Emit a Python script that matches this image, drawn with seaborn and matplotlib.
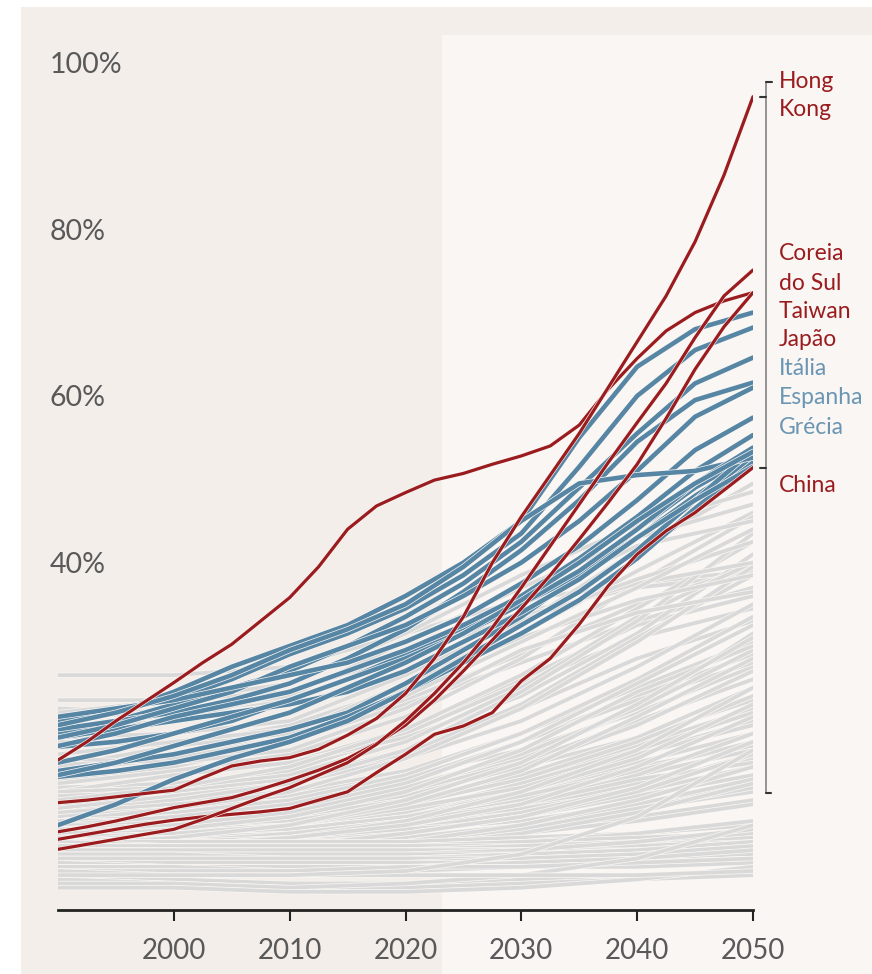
import numpy as np
import pandas as pd
import matplotlib
matplotlib.use('Agg')
import matplotlib.pyplot as plt
import matplotlib.patheffects as pe
from matplotlib.patches import Rectangle
import seaborn as sns

# years: red series read every 2.5 years, blue every 5, grey every 10
years_red = [1990 + 2.5 * i for i in range(25)]
years_5 = list(range(1990, 2051, 5))
years_10 = list(range(1990, 2051, 10))

# highlighted asian economies (%)
hong_kong = [11.2, 11.5, 11.9, 12.3, 12.7, 14.2, 15.6, 16.2, 16.6, 17.6, 19.3, 21.3, 24.3,
             28.5, 33.5, 40.0, 45.5, 50.5, 55.5, 61.0, 66.5, 72.0, 78.5, 86.5, 95.9]
coreia = [5.6, 6.2, 6.8, 7.4, 8.0, 9.2, 10.5, 11.8, 13.0, 14.5, 16.0, 18.2, 21.0,
          24.3, 28.0, 32.2, 37.0, 42.0, 47.0, 52.0, 56.8, 61.5, 67.0, 72.0, 75.1]
taiwan = [7.7, 8.3, 9.0, 9.8, 10.6, 11.2, 11.8, 12.8, 13.9, 15.1, 16.5, 18.3, 20.5,
          23.5, 27.0, 30.7, 34.5, 38.5, 42.8, 47.2, 51.8, 57.3, 63.2, 68.3, 72.4]
japao = [16.3, 18.5, 21.0, 23.3, 25.6, 28.0, 30.2, 33.0, 35.8, 39.5, 44.0, 46.8, 48.4,
         49.9, 50.7, 51.8, 52.8, 54.0, 56.5, 60.8, 64.5, 67.8, 70.0, 71.4, 72.4]
china = [6.8, 7.4, 8.0, 8.6, 9.1, 9.5, 9.8, 10.1, 10.5, 11.5, 12.5, 14.8, 17.0,
         19.4, 20.4, 22.0, 25.8, 28.5, 32.6, 37.2, 41.0, 43.8, 46.0, 48.7, 51.4]

# european countries (blue)
blue_europe = [
    [20.5, 22.0, 24.5, 27.5, 30.0, 32.5, 36.0, 40.0, 45.0, 55.0, 63.5, 68.0, 70.0],
    [21.0, 22.5, 23.5, 26.0, 29.0, 31.5, 34.5, 38.5, 43.5, 51.5, 60.0, 65.5, 68.2],
    [19.5, 21.0, 23.0, 25.0, 27.0, 30.0, 33.5, 37.5, 42.5, 49.0, 55.5, 61.5, 64.6],
    [20.0, 21.0, 22.0, 23.5, 25.5, 28.5, 32.0, 36.5, 41.5, 47.5, 54.5, 59.5, 61.6],
    [19.0, 20.5, 22.5, 24.5, 27.5, 30.0, 32.5, 36.0, 40.0, 45.0, 51.0, 57.5, 61.0],
    [21.5, 22.5, 23.5, 25.0, 26.5, 28.0, 30.5, 33.5, 37.5, 42.0, 47.5, 53.5, 57.4],
    [18.0, 19.5, 21.5, 23.0, 24.5, 27.0, 29.5, 32.5, 36.0, 40.5, 45.5, 51.0, 55.3],
    [20.5, 22.0, 24.0, 26.5, 29.5, 32.0, 35.0, 39.5, 45.0, 49.5, 50.5, 51.0, 52.6],
    [16.0, 17.5, 19.5, 21.5, 23.5, 26.0, 28.5, 31.5, 35.0, 39.0, 44.0, 49.5, 53.8],
    [14.5, 16.0, 18.0, 20.0, 22.0, 25.0, 28.0, 31.5, 35.5, 40.0, 45.0, 49.5, 53.3],
    [15.0, 16.0, 17.0, 18.5, 20.0, 22.0, 25.5, 29.5, 33.5, 38.5, 44.0, 49.0, 52.9],
    [17.9, 18.5, 19.5, 21.0, 23.5, 26.0, 29.0, 32.0, 35.0, 38.5, 43.0, 48.0, 52.4],
    [14.3, 15.0, 16.0, 17.5, 19.0, 21.5, 24.5, 28.0, 31.5, 35.5, 40.5, 46.5, 52.0],
    [8.5, 11.0, 14.0, 16.5, 18.5, 21.0, 24.5, 28.5, 32.5, 36.5, 41.5, 47.5, 53.5],
    [19.0, 20.0, 21.0, 22.0, 23.0, 24.5, 27.0, 30.5, 34.0, 38.0, 43.0, 47.5, 51.5],
]

# all other countries (grey)
grey_rest = [
    [26.5, 26.5, 27.5, 31.5, 35.5, 37.5, 39.0],
    [23.5, 23.5, 24.5, 29.0, 34.0, 37.0, 38.5],
    [22.5, 22.0, 23.5, 28.5, 35.5, 42.0, 45.0],
    [22.0, 23.5, 25.5, 31.5, 38.5, 44.5, 48.5],
    [21.5, 22.0, 24.0, 30.5, 37.0, 43.0, 47.0],
    [20.0, 21.0, 24.5, 29.0, 33.5, 37.5, 40.0],
    [19.0, 19.5, 21.0, 26.5, 33.0, 38.0, 42.5],
    [18.5, 18.0, 19.5, 25.5, 31.0, 35.5, 38.5],
    [17.0, 18.5, 20.0, 24.0, 30.5, 37.0, 44.0],
    [16.5, 16.0, 17.5, 22.5, 29.5, 34.0, 36.5],
    [16.0, 17.0, 19.0, 23.5, 29.0, 35.0, 39.5],
    [15.5, 18.0, 20.5, 25.0, 32.5, 41.5, 49.5],
    [15.0, 16.5, 19.0, 24.5, 31.5, 39.0, 46.0],
    [14.5, 15.0, 16.0, 20.0, 26.0, 32.5, 36.0],
    [14.0, 15.5, 18.5, 23.0, 28.0, 33.0, 37.0],
    [13.5, 15.0, 17.0, 21.5, 28.5, 37.5, 45.5],
    [13.0, 13.5, 15.0, 19.5, 25.5, 31.0, 34.5],
    [12.5, 14.5, 16.0, 19.0, 24.0, 31.5, 41.0],
    [12.5, 13.0, 14.5, 18.5, 25.0, 33.5, 40.0],
    [12.0, 12.5, 14.0, 17.5, 22.5, 28.5, 33.0],
    [11.5, 13.0, 15.5, 20.0, 26.5, 34.5, 42.5],
    [11.0, 11.5, 12.5, 15.0, 19.5, 25.0, 30.5],
    [11.0, 12.0, 13.5, 17.0, 23.0, 31.0, 38.5],
    [10.5, 12.0, 13.5, 16.5, 21.0, 27.5, 35.0],
    [10.0, 11.5, 13.5, 17.5, 24.5, 33.0, 43.5],
    [10.0, 10.5, 11.5, 14.0, 18.5, 24.0, 29.0],
    [10.0, 11.0, 12.0, 14.5, 17.5, 22.0, 27.5],
    [9.5, 10.0, 10.5, 12.5, 16.5, 22.5, 31.5],
    [9.5, 10.5, 11.5, 13.0, 15.5, 19.0, 23.5],
    [9.0, 10.0, 11.5, 14.5, 19.5, 26.0, 33.5],
    [9.0, 10.5, 12.5, 16.5, 22.5, 30.5, 39.5],
    [9.0, 9.5, 10.5, 12.5, 16.0, 21.0, 26.0],
    [9.0, 9.0, 9.5, 11.5, 14.0, 18.0, 22.5],
    [8.5, 9.0, 10.0, 12.0, 15.5, 20.5, 27.0],
    [8.5, 9.5, 11.0, 14.0, 18.5, 23.5, 28.0],
    [8.5, 8.5, 9.0, 10.5, 13.0, 17.0, 21.0],
    [8.0, 9.0, 10.5, 13.5, 18.5, 25.5, 32.5],
    [8.0, 8.5, 9.5, 11.5, 14.5, 19.0, 25.0],
    [8.0, 8.0, 8.5, 10.0, 12.5, 16.0, 19.5],
    [7.5, 8.0, 9.0, 11.0, 14.0, 18.5, 24.0],
    [7.5, 8.5, 10.0, 13.0, 17.0, 22.5, 29.5],
    [7.5, 7.5, 8.0, 9.5, 12.0, 15.5, 18.0],
    [7.5, 8.0, 8.5, 10.0, 13.5, 17.5, 22.0],
    [7.0, 8.0, 9.5, 12.5, 17.5, 24.5, 30.0],
    [7.0, 7.5, 8.5, 10.5, 13.0, 17.0, 20.5],
    [7.0, 7.0, 7.5, 9.0, 11.5, 14.5, 17.5],
    [7.0, 7.5, 8.0, 9.5, 12.5, 16.5, 23.0],
    [6.5, 7.5, 8.5, 11.0, 15.0, 21.5, 28.5],
    [6.5, 7.0, 8.0, 9.5, 12.0, 15.0, 18.5],
    [6.5, 7.0, 7.5, 8.5, 10.5, 13.5, 16.5],
    [6.5, 6.5, 7.0, 8.5, 11.0, 14.5, 19.5],
    [6.5, 7.0, 7.5, 9.0, 10.5, 12.5, 15.5],
    [6.0, 7.0, 8.5, 11.5, 16.0, 23.0, 31.0],
    [6.0, 6.5, 7.0, 8.0, 10.0, 13.0, 17.0],
    [6.0, 6.5, 7.5, 9.0, 11.0, 14.0, 16.0],
    [6.0, 6.0, 6.5, 7.5, 9.5, 12.0, 14.5],
    [6.0, 6.5, 7.0, 8.0, 9.0, 11.0, 13.5],
    [5.5, 6.0, 7.0, 9.0, 12.5, 17.5, 25.0],
    [5.5, 6.0, 6.5, 7.5, 9.5, 12.5, 17.0],
    [5.5, 6.0, 6.5, 7.0, 8.5, 10.5, 12.5],
    [5.5, 5.5, 6.0, 7.0, 8.0, 9.5, 11.5],
    [5.5, 6.0, 7.0, 8.5, 11.0, 15.5, 21.5],
    [5.0, 5.5, 6.0, 7.0, 8.5, 11.0, 14.0],
    [5.0, 5.5, 6.0, 6.5, 7.5, 9.0, 11.0],
    [5.0, 5.0, 5.5, 6.5, 8.0, 10.5, 13.0],
    [5.0, 5.5, 6.0, 7.5, 9.5, 13.0, 18.5],
    [4.5, 5.0, 5.5, 6.5, 8.5, 11.5, 15.5],
    [4.0, 4.5, 5.0, 6.0, 7.5, 10.0, 13.5],
    [6.5, 6.5, 6.5, 6.5, 7.0, 7.5, 8.5],
    [6.5, 6.0, 6.0, 6.0, 6.5, 7.5, 9.0],
    [6.0, 6.0, 5.5, 5.5, 6.0, 6.5, 8.0],
    [6.0, 5.5, 5.5, 6.0, 6.5, 7.0, 7.5],
    [6.0, 6.0, 6.0, 6.0, 6.0, 6.5, 7.0],
    [5.5, 5.5, 5.5, 5.5, 6.0, 6.5, 7.5],
    [5.5, 5.5, 5.0, 5.0, 5.5, 6.0, 7.0],
    [5.5, 5.0, 5.0, 5.5, 5.5, 6.0, 6.5],
    [5.5, 5.5, 5.5, 5.5, 5.5, 5.5, 6.0],
    [5.0, 5.0, 5.0, 5.0, 5.5, 6.5, 8.0],
    [5.0, 5.0, 5.0, 5.0, 5.0, 5.5, 6.0],
    [5.0, 4.5, 4.5, 4.5, 5.0, 5.5, 6.5],
    [5.0, 5.0, 4.5, 4.5, 4.5, 5.0, 5.5],
    [4.5, 4.5, 4.5, 4.5, 5.0, 5.5, 6.5],
    [4.5, 4.5, 4.5, 4.5, 4.5, 5.0, 5.5],
    [4.5, 4.5, 4.0, 4.0, 4.5, 5.0, 6.0],
    [4.5, 4.5, 4.5, 4.5, 4.5, 4.5, 5.0],
    [4.0, 4.0, 4.0, 4.0, 4.5, 5.0, 6.0],
    [4.0, 4.0, 4.0, 4.0, 4.0, 4.5, 5.0],
    [4.0, 4.0, 4.0, 4.0, 4.0, 4.0, 4.5],
    [4.0, 3.5, 3.5, 3.5, 4.0, 4.5, 5.5],
    [3.5, 3.5, 3.5, 3.5, 3.5, 4.0, 4.5],
    [3.5, 3.5, 3.5, 3.5, 3.5, 3.5, 4.0],
    [3.5, 3.5, 3.0, 3.0, 3.5, 3.5, 4.0],
    [3.0, 3.0, 3.0, 3.5, 3.5, 4.0, 4.5],
    [2.5, 2.0, 1.5, 1.5, 2.0, 2.5, 3.0],
    [2.0, 1.5, 1.0, 1.0, 1.5, 2.0, 2.5],
    [1.5, 1.5, 1.0, 1.5, 2.5, 4.5, 8.5],
    [1.0, 1.0, 0.5, 0.5, 1.0, 2.0, 3.5],
    [3.0, 2.5, 2.5, 2.5, 2.5, 2.5, 3.0],
    [2.5, 2.5, 2.5, 3.0, 5.0, 9.5, 17.5],
]

y_ticks = [40, 60, 80, 100]
x_ticks = [2000, 2010, 2020, 2030, 2040, 2050]

red_c = '#9b1c1f'
blue_c = '#5786a5'
grey_c = '#d9d9d9'
bg_light = '#f9f6f3'


def to_long(rows, years, prefix):
    recs = []
    for i, row in enumerate(rows):
        for yr, v in zip(years, row):
            recs.append({'id': f'{prefix}{i}', 'year': yr, 'value': v})
    return pd.DataFrame(recs)


df_grey = to_long(grey_rest, years_10, 'g')
df_blue = to_long(blue_europe, years_5, 'b')
df_red = to_long([china, japao, taiwan, coreia, hong_kong], years_red, 'r')

sns.set_theme(style='white')
plt.rcParams['font.family'] = ['Lato', 'DejaVu Sans']

fig = plt.figure(figsize=(8.72, 9.74), dpi=100)
fig.patch.set_facecolor('white')
# beige panel and lighter projection area
fig.add_artist(Rectangle((21 / 872, 0), 851 / 872, 967 / 974, transform=fig.transFigure,
                         facecolor='#f3eeea', edgecolor='none', zorder=-10))
fig.add_artist(Rectangle((442 / 872, 0), 430 / 872, 939 / 974, transform=fig.transFigure,
                         facecolor=bg_light, edgecolor='none', zorder=-9))

ax = fig.add_axes([58 / 872, 64 / 974, 695 / 872, 875 / 974])
ax.patch.set_alpha(0)

halo = lambda w: [pe.Stroke(linewidth=w, foreground=bg_light), pe.Normal()]

sns.lineplot(data=df_grey, x='year', y='value', units='id', estimator=None, sort=False,
             color=grey_c, lw=2.7, ax=ax, legend=False, zorder=2,
             solid_joinstyle='round', path_effects=halo(3.8))
sns.lineplot(data=df_blue, x='year', y='value', units='id', estimator=None, sort=False,
             color=blue_c, lw=3.3, ax=ax, legend=False, zorder=3,
             solid_joinstyle='round', path_effects=halo(4.3))
sns.lineplot(data=df_red, x='year', y='value', units='id', estimator=None, sort=False,
             color=red_c, lw=2.3, ax=ax, legend=False, zorder=4,
             solid_joinstyle='round', path_effects=halo(3.2))

ax.set_xlim(1990, 2050)
ax.set_ylim(-1.68, 103.3)
ax.set_xlabel('')
ax.set_ylabel('')

for s in ['top', 'right', 'left']:
    ax.spines[s].set_visible(False)
ax.spines['bottom'].set_color('#222222')
ax.spines['bottom'].set_linewidth(2)

ax.set_xticks(x_ticks)
ax.set_xticklabels([str(x) for x in x_ticks])
ax.tick_params(axis='x', length=8, width=1.5, color='#222222', pad=12,
               labelsize=20, labelcolor='#595959', bottom=True)
ax.set_yticks(y_ticks)
ax.set_yticklabels([f'{v}%' for v in y_ticks])
ax.tick_params(axis='y', length=0, pad=5.8, labelsize=20.5, labelcolor='#595959')
for lab in ax.get_yticklabels():
    lab.set_horizontalalignment('left')
ax.grid(False)

# bracket on the right
xb = 2051.12
ax.plot([xb, xb], [12.4, 97.7], color='#8c8c8c', lw=1.3, clip_on=False)
ax.plot([xb, xb + 0.5], [97.7, 97.7], color='#333333', lw=1.5, clip_on=False)
ax.plot([xb - 0.55, xb], [hong_kong[-1], hong_kong[-1]], color='#333333', lw=1.5, clip_on=False)
ax.plot([xb - 0.55, xb], [china[-1], china[-1]], color='#333333', lw=1.5, clip_on=False)
ax.plot([xb, xb + 0.45], [12.4, 12.4], color='#333333', lw=1.5, clip_on=False)

labels = [
    ('Hong', 82, red_c), ('Kong', 110, red_c),
    ('Coreia', 254, red_c), ('do Sul', 283, red_c), ('Taiwan', 312, red_c),
    ('Japão', 340, red_c), ('Itália', 369, '#6b96b3'), ('Espanha', 398, '#6b96b3'),
    ('Grécia', 427, '#6b96b3'), ('China', 485, red_c),
]
for txt, ypx, col in labels:
    fig.text(779 / 872, 1 - ypx / 974, txt, color=col, fontsize=16.5,
             ha='left', va='center')

fig.savefig('out.png', dpi=100)
